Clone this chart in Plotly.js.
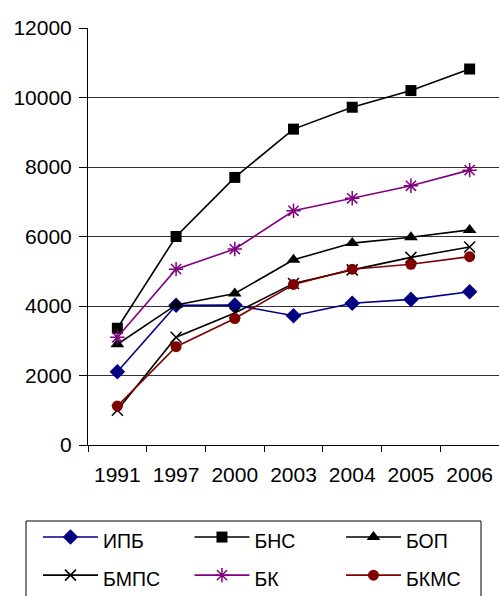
<!DOCTYPE html>
<html>
<head>
<meta charset="utf-8">
<script src="https://cdn.plot.ly/plotly-3.0.1.min.js"></script>
<style>html,body{margin:0;padding:0;background:#fff;}#chart{width:499px;height:596px;}</style>
</head>
<body>
<div id="chart"></div>
<script>
const years = ['1991', '1997', '2000', '2003', '2004', '2005', '2006'];
const seriesNames = ['ИПБ', 'БНС', 'БОП', 'БМПС', 'БК', 'БКМС'];
const ipb  = [2110, 4020, 4030, 3720, 4080, 4190, 4410];
const bns  = [3360, 6000, 7700, 9090, 9720, 10200, 10820];
const bop  = [2900, 4030, 4360, 5330, 5810, 5980, 6190];
const bmps = [1000, 3100, 3800, 4650, 5040, 5400, 5700];
const bk   = [3100, 5060, 5640, 6740, 7100, 7460, 7910];
const bkms = [1120, 2830, 3640, 4620, 5060, 5200, 5420];
const yTicks = [0, 2000, 4000, 6000, 8000, 10000, 12000];

const values = [ipb, bns, bop, bmps, bk, bkms];
const styles = [
  {color: '#000080', symbol: 'diamond', size: 12, lw: 0},
  {color: '#000000', symbol: 'square', size: 11, lw: 0},
  {color: '#000000', symbol: 'triangle-up', size: 12, lw: 0},
  {color: '#000000', symbol: 'x-thin-open', size: 11, lw: 1.5},
  {color: '#800080', symbol: 'asterisk-open', size: 12, lw: 1.5},
  {color: '#800000', symbol: 'circle', size: 11, lw: 0}
];

const traces = values.map((v, i) => ({
  type: 'scatter',
  mode: 'lines+markers',
  x: years,
  y: v,
  name: '<span style="font-size:19.5px">' + seriesNames[i] + '</span>',
  line: {color: styles[i].color, width: 1.6},
  marker: {
    color: styles[i].color,
    symbol: styles[i].symbol,
    size: styles[i].size,
    line: {color: styles[i].color, width: styles[i].lw}
  }
}));

const layout = {
  width: 499,
  height: 596,
  margin: {l: 88, r: 0, t: 28, b: 151, autoexpand: false},
  paper_bgcolor: '#ffffff',
  plot_bgcolor: '#ffffff',
  font: {family: 'Liberation Sans, Arial, sans-serif', size: 19, color: '#000'},
  showlegend: true,
  xaxis: {
    type: 'category',
    range: [-0.5, 6.5],
    showline: true,
    linecolor: '#000',
    linewidth: 1,
    ticks: 'outside',
    tickson: 'boundaries',
    ticklen: 6,
    tickcolor: '#000',
    showgrid: false,
    zeroline: false,
    tickfont: {size: 21},
    ticklabelstandoff: 11
  },
  yaxis: {
    range: [0, 12000],
    tickvals: yTicks,
    ticktext: yTicks.map(String),
    showline: true,
    linecolor: '#000',
    linewidth: 1,
    ticks: 'outside',
    ticklen: 8,
    tickcolor: '#000',
    showgrid: true,
    gridcolor: '#333',
    gridwidth: 1,
    zeroline: false,
    tickfont: {size: 21},
    ticklabelstandoff: 3
  },
  legend: {
    orientation: 'h',
    x: -0.1217,
    xanchor: 'left',
    y: (445 - 513) / 417,
    yanchor: 'top',
    borderwidth: 0,
    bgcolor: 'rgba(0,0,0,0)',
    font: {size: 27},
    itemwidth: 55,
    entrywidth: 81.5,
    entrywidthmode: 'pixels',
    traceorder: 'normal'
  },
  shapes: [{
    type: 'rect',
    xref: 'paper', yref: 'paper',
    x0: (26 - 88) / 411, x1: (481 - 88) / 411,
    y0: (445 - 521) / 417, y1: (445 - 605) / 417,
    line: {color: '#000', width: 1},
    fillcolor: 'rgba(0,0,0,0)',
    layer: 'below'
  }]
};

Plotly.newPlot('chart', traces, layout, {displayModeBar: false, staticPlot: true});
</script>
</body>
</html>
